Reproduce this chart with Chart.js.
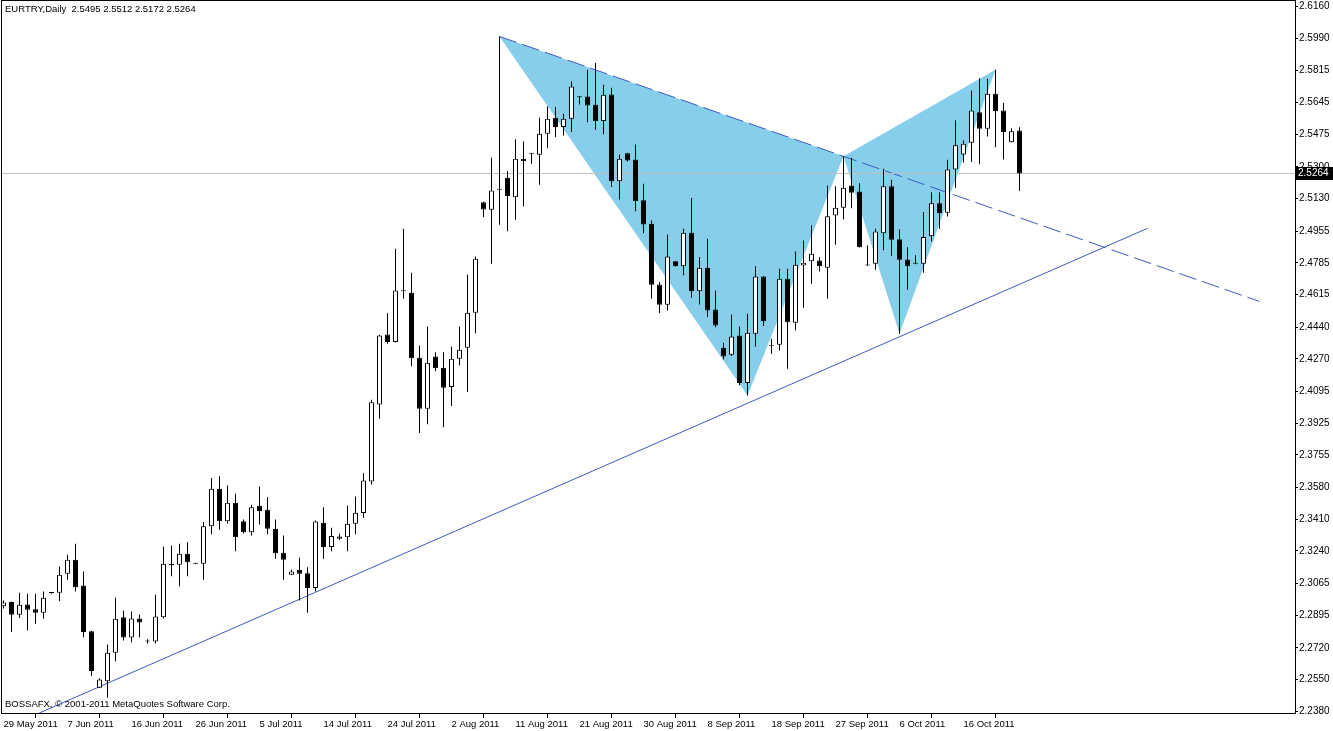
<!DOCTYPE html>
<html>
<head>
<meta charset="utf-8">
<script src="https://cdn.jsdelivr.net/npm/chart.js@4.4.0/dist/chart.umd.min.js"></script>
<style>
  html, body { margin: 0; padding: 0; background: #fff; }
  #quadro { position: relative; width: 1333px; height: 731px; }
  #grafico { display: block; }
  .rotulo { position: absolute; font-family: 'Liberation Sans', Arial, sans-serif; font-size: 9.5px; color: #000; white-space: pre; pointer-events: none; line-height: 12px; }
  #titulo { left: 5px; top: 3px; }
  #copyright { left: 5px; top: 698px; }
</style>
</head>
<body>
<div id="quadro">
  <canvas id="grafico" width="1333" height="731"></canvas>
  <div class="rotulo" id="titulo">EURTRY,Daily  2.5495 2.5512 2.5172 2.5264</div>
  <div class="rotulo" id="copyright">BOSSAFX, © 2001-2011 MetaQuotes Software Corp.</div>
</div>
<script>
// rotulos de data (um a cada 8 barras)
const dateLabels = [
    '29 May 2011', '7 Jun 2011', '16 Jun 2011', '26 Jun 2011', '5 Jul 2011', '14 Jul 2011',
    '24 Jul 2011', '2 Aug 2011', '11 Aug 2011', '21 Aug 2011', '30 Aug 2011', '8 Sep 2011',
    '18 Sep 2011', '27 Sep 2011', '6 Oct 2011', '16 Oct 2011',
];
const dateTickIndex = [0, 8, 16, 24, 32, 40, 48, 56, 64, 72, 80, 88, 96, 104, 112, 120];

const priceTicks = [
    2.6160, 2.5990, 2.5815, 2.5645, 2.5475, 2.5300, 2.5130, 2.4955, 2.4785, 2.4615, 2.4440, 2.4270,
    2.4095, 2.3925, 2.3755, 2.3580, 2.3410, 2.3240, 2.3065, 2.2895, 2.2720, 2.2550, 2.2380,
];

// OHLC diario
const opens = [
    2.2943, 2.2966, 2.2898, 2.2953, 2.2927, 2.2909, 2.3014, 2.3016, 2.3118, 2.3193,
    2.3055, 2.2809, 2.2507, 2.2542, 2.2694, 2.2884, 2.2776, 2.2878, 2.2755, 2.2755,
    2.2885, 2.3172, 2.3166, 2.3225, 2.3172, 2.3172, 2.3372, 2.3574, 2.3400, 2.3499,
    2.3400, 2.3341, 2.3483, 2.3461, 2.3359, 2.3231, 2.3113, 2.3139, 2.3121, 2.3041,
    2.3391, 2.3261, 2.3306, 2.3314, 2.3386, 2.3443, 2.3613, 2.4026, 2.4401, 2.4360,
    2.4632, 2.4625, 2.4276, 2.4003, 2.4283, 2.4223, 2.4119, 2.4271, 2.4330, 2.4517,
    2.5110, 2.5070, 2.5177, 2.5241, 2.5137, 2.5343, 2.5370, 2.5365, 2.5477, 2.5563,
    2.5513, 2.5558, 2.5673, 2.5677, 2.5633, 2.5545, 2.5688, 2.5223, 2.5373, 2.5339,
    2.5120, 2.4995, 2.4669, 2.4560, 2.4793, 2.4767, 2.4946, 2.4633, 2.4759, 2.4535,
    2.4330, 2.4292, 2.4396, 2.4140, 2.4405, 2.4712, 2.4338, 2.4346, 2.4700, 2.4464,
    2.4771, 2.4793, 2.4798, 2.4759, 2.5039, 2.5080, 2.5200, 2.5168, 2.4771, 2.4780,
    2.4944, 2.5195, 2.4911, 2.4803, 2.4780, 2.4780, 2.4928, 2.5105, 2.5054, 2.5286,
    2.5366, 2.5429, 2.5593, 2.5504, 2.5692, 2.5602, 2.5432, 2.5495,
];
const highs = [
    2.2975, 2.2969, 2.3016, 2.3011, 2.3011, 2.3023, 2.3018, 2.3157, 2.3220, 2.3279,
    2.3130, 2.2812, 2.2558, 2.2739, 2.2989, 2.2921, 2.2916, 2.2900, 2.2766, 2.3005,
    2.3264, 2.3270, 2.3279, 2.3287, 2.3174, 2.3395, 2.3631, 2.3641, 2.3591, 2.3547,
    2.3409, 2.3488, 2.3586, 2.3529, 2.3409, 2.3323, 2.3141, 2.3204, 2.3153, 2.3404,
    2.3475, 2.3365, 2.3332, 2.3484, 2.3532, 2.3657, 2.4051, 2.4400, 2.4515, 2.4861,
    2.4968, 2.4732, 2.4342, 2.4444, 2.4306, 2.4306, 2.4337, 2.4444, 2.4723, 2.4819,
    2.5112, 2.5349, 2.5999, 2.5277, 2.5447, 2.5436, 2.5372, 2.5563, 2.5624, 2.5620,
    2.5584, 2.5758, 2.5677, 2.5820, 2.5858, 2.5740, 2.5724, 2.5366, 2.5375, 2.5420,
    2.5209, 2.5012, 2.4682, 2.4937, 2.4795, 2.4968, 2.5132, 2.4816, 2.4914, 2.4637,
    2.4357, 2.4508, 2.4444, 2.4512, 2.4766, 2.4714, 2.4378, 2.4753, 2.4753, 2.4846,
    2.4905, 2.4986, 2.4816, 2.5200, 2.5195, 2.5356, 2.5349, 2.5212, 2.4878, 2.4968,
    2.5290, 2.5231, 2.4964, 2.4869, 2.4825, 2.5057, 2.5164, 2.5164, 2.5338, 2.5549,
    2.5441, 2.5709, 2.5775, 2.5772, 2.5820, 2.5643, 2.5507, 2.5512,
];
const lows = [
    2.2932, 2.2805, 2.2880, 2.2814, 2.2850, 2.2877, 2.3010, 2.2971, 2.3086, 2.3023,
    2.2778, 2.2569, 2.2505, 2.2453, 2.2649, 2.2760, 2.2750, 2.2776, 2.2744, 2.2744,
    2.2878, 2.3105, 2.3051, 2.3105, 2.3170, 2.3086, 2.3329, 2.3354, 2.3386, 2.3238,
    2.3334, 2.3323, 2.3382, 2.3329, 2.3198, 2.3086, 2.3111, 2.2975, 2.2909, 2.3023,
    2.3198, 2.3238, 2.3300, 2.3238, 2.3329, 2.3418, 2.3597, 2.3949, 2.4351, 2.4358,
    2.4593, 2.4231, 2.3872, 2.3919, 2.4204, 2.3904, 2.4017, 2.4235, 2.4092, 2.4408,
    2.5030, 2.4780, 2.4989, 2.4955, 2.5016, 2.5087, 2.5316, 2.5204, 2.5400, 2.5459,
    2.5468, 2.5486, 2.5634, 2.5539, 2.5499, 2.5474, 2.5191, 2.5125, 2.5328, 2.5061,
    2.4944, 2.4593, 2.4515, 2.4530, 2.4765, 2.4718, 2.4598, 2.4562, 2.4494, 2.4440,
    2.4267, 2.4285, 2.4128, 2.4074, 2.4337, 2.4446, 2.4298, 2.4315, 2.4217, 2.4423,
    2.4544, 2.4673, 2.4739, 2.4593, 2.4882, 2.5018, 2.5078, 2.4867, 2.4769, 2.4748,
    2.4852, 2.4821, 2.4405, 2.4641, 2.4778, 2.4732, 2.4900, 2.4968, 2.5034, 2.5186,
    2.5323, 2.5325, 2.5313, 2.5463, 2.5405, 2.5339, 2.5430, 2.5172,
];
const closes = [
    2.2964, 2.2898, 2.2952, 2.2925, 2.2909, 2.2989, 2.3014, 2.3113, 2.3193, 2.3046,
    2.2805, 2.2596, 2.2551, 2.2694, 2.2877, 2.2776, 2.2878, 2.2857, 2.2755, 2.2889,
    2.3172, 2.3164, 2.3225, 2.3180, 2.3172, 2.3372, 2.3574, 2.3400, 2.3499, 2.3314,
    2.3341, 2.3475, 2.3454, 2.3359, 2.3228, 2.3193, 2.3130, 2.3118, 2.3041, 2.3398,
    2.3261, 2.3320, 2.3318, 2.3386, 2.3445, 2.3618, 2.4038, 2.4396, 2.4360, 2.4637,
    2.4632, 2.4274, 2.4003, 2.4249, 2.4220, 2.4115, 2.4271, 2.4319, 2.4517, 2.4807,
    2.5071, 2.5173, 2.5177, 2.5143, 2.5343, 2.5330, 2.5370, 2.5477, 2.5558, 2.5513,
    2.5558, 2.5731, 2.5673, 2.5629, 2.5545, 2.5686, 2.5223, 2.5343, 2.5334, 2.5116,
    2.4991, 2.4668, 2.4560, 2.4819, 2.4767, 2.4946, 2.4633, 2.4759, 2.4530, 2.4449,
    2.4283, 2.4390, 2.4140, 2.4410, 2.4712, 2.4472, 2.4338, 2.4700, 2.4467, 2.4775,
    2.4786, 2.4834, 2.4767, 2.5035, 2.5080, 2.5188, 2.5161, 2.4869, 2.4771, 2.4953,
    2.5195, 2.4909, 2.4802, 2.4767, 2.4780, 2.4923, 2.5105, 2.5051, 2.5286, 2.5415,
    2.5424, 2.5602, 2.5504, 2.5692, 2.5598, 2.5486, 2.5490, 2.5264,
];

const bidPrice = 2.5264;

// padrao X-A-B-C-D (indice da barra, preco)
const patternIndex = [62, 93, 105, 112, 124];
const patternPrice = [2.5999, 2.4074, 2.5356, 2.4405, 2.5820];

// linha de tendencia de suporte
const trendIndex = [4, 143];
const trendPrice = [2.2362, 2.4970];

// linha tracejada X -> B prolongada
const dashIndex = [62, 105, 157];
const dashPrice = [2.5999, 2.5356, 2.4578];

const X_MIN = -0.3125;
const X_MAX = 161.4375;
const Y_MIN = 2.23712;
const Y_MAX = 2.61943;

Chart.defaults.font.family = "'Liberation Sans', Arial, sans-serif";
Chart.defaults.font.size = 10;
Chart.defaults.color = '#000';

const indices = opens.map((_, i) => i);
const wicks = indices.map((i) => ({ x: i, y: [lows[i], highs[i]] }));
const bodies = indices.map((i) => ({ x: i, y: [opens[i], closes[i]] }));
const bodyColors = indices.map((i) => (closes[i] >= opens[i] ? '#ffffff' : '#000000'));

function pontos(idx, precos) {
    return idx.map((x, i) => ({ x, y: precos[i] }));
}

const triangulo1 = pontos(
    [patternIndex[0], patternIndex[1], patternIndex[2], patternIndex[0]],
    [patternPrice[0], patternPrice[1], patternPrice[2], patternPrice[0]],
);
const triangulo2 = pontos(
    [patternIndex[2], patternIndex[3], patternIndex[4], patternIndex[2]],
    [patternPrice[2], patternPrice[3], patternPrice[4], patternPrice[2]],
);

const molduraPlugin = {
    id: 'moldura',
    afterDraw(chart) {
        const { ctx, chartArea: a, scales } = chart;
        ctx.save();
        ctx.strokeStyle = '#000';
        ctx.lineWidth = 1;
        ctx.strokeRect(a.left + 0.5, a.top + 0.5, a.right - a.left, a.bottom - a.top);

        const y = Math.round(scales.y.getPixelForValue(bidPrice));
        ctx.fillStyle = '#000';
        ctx.fillRect(a.right + 1, y - 6, 37, 13);
        ctx.fillStyle = '#fff';
        ctx.font = "10px 'Liberation Sans', Arial, sans-serif";
        ctx.textBaseline = 'middle';
        ctx.textAlign = 'left';
        ctx.fillText(bidPrice.toFixed(4), a.right + 3, y + 0.5);
        ctx.restore();
    },
};

new Chart(document.getElementById('grafico'), {
    type: 'bar',
    data: {
        datasets: [
            {
                type: 'bar',
                label: 'corpo',
                data: bodies,
                backgroundColor: bodyColors,
                borderColor: '#000',
                borderWidth: 1,
                borderSkipped: false,
                barThickness: 5,
                maxBarThickness: 5,
                minBarLength: 1,
                inflateAmount: 0,
                grouped: false,
                order: 1,
            },
            {
                type: 'bar',
                label: 'pavio',
                data: wicks,
                backgroundColor: '#000',
                borderWidth: 0,
                barThickness: 1,
                maxBarThickness: 1,
                minBarLength: 1,
                inflateAmount: 0,
                grouped: false,
                order: 2,
            },
            {
                type: 'line',
                label: 'bid',
                data: [{ x: X_MIN, y: bidPrice }, { x: X_MAX, y: bidPrice }],
                borderColor: '#c0c0c0',
                borderWidth: 1,
                pointRadius: 0,
                fill: false,
                order: 6,
            },
            {
                type: 'line',
                label: 'tendencia',
                data: pontos(trendIndex, trendPrice),
                borderColor: '#3a5bc0',
                borderWidth: 1,
                pointRadius: 0,
                fill: false,
                order: 7,
            },
            {
                type: 'line',
                label: 'tracejada',
                data: pontos(dashIndex, dashPrice),
                borderColor: '#3a5bc0',
                borderWidth: 1,
                borderDash: [18, 6],
                pointRadius: 0,
                fill: false,
                order: 8,
            },
            {
                type: 'line',
                label: 'XAB',
                data: triangulo1,
                borderColor: 'rgba(0,0,0,0)',
                backgroundColor: '#87ceeb',
                borderWidth: 1,
                pointRadius: 0,
                fill: 'shape',
                order: 10,
            },
            {
                type: 'line',
                label: 'BCD',
                data: triangulo2,
                borderColor: 'rgba(0,0,0,0)',
                backgroundColor: '#87ceeb',
                borderWidth: 1,
                pointRadius: 0,
                fill: 'shape',
                order: 10,
            },
        ],
    },
    options: {
        responsive: false,
        animation: false,
        events: [],
        layout: { padding: { left: 1, top: 0, right: 0, bottom: 0 } },
        plugins: { legend: { display: false }, tooltip: { enabled: false } },
        scales: {
            x: {
                type: 'linear',
                min: X_MIN,
                max: X_MAX,
                offset: false,
                afterBuildTicks: (s) => { s.ticks = dateTickIndex.map((v) => ({ value: v })); },
                afterFit: (s) => { s.height = 18; s.paddingLeft = 0; s.paddingRight = 0; },
                ticks: {
                    callback: (v, i) => dateLabels[i],
                    align: 'start',
                    maxRotation: 0,
                    autoSkip: false,
                    padding: 1,
                    font: { size: 9.5 },
                },
                grid: { drawOnChartArea: false, drawTicks: true, tickLength: 5, color: '#000' },
                border: { display: false },
            },
            y: {
                type: 'linear',
                position: 'right',
                min: Y_MIN,
                max: Y_MAX,
                afterBuildTicks: (s) => { s.ticks = priceTicks.map((v) => ({ value: v })); },
                afterFit: (s) => { s.width = 38; s.paddingTop = 0; s.paddingBottom = 0; },
                ticks: {
                    callback: (v) => v.toFixed(4),
                    autoSkip: false,
                    padding: 1,
                },
                grid: { drawOnChartArea: false, drawTicks: true, tickLength: 3, color: '#000' },
                border: { display: false },
            },
        },
    },
    plugins: [molduraPlugin],
});
</script>
</body>
</html>
